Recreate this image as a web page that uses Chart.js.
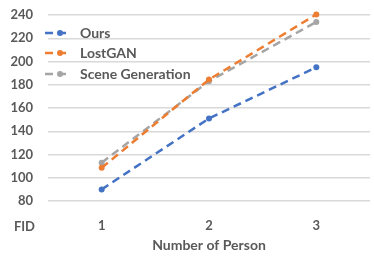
<!DOCTYPE html>
<html><head><meta charset="utf-8">
<script src="https://cdn.jsdelivr.net/npm/chart.js@4/dist/chart.umd.min.js"></script>
<style>html,body{margin:0;padding:0;background:#fff}#wrap{width:374px;height:259px;position:relative}</style>
</head><body><div id="wrap"><canvas id="c"></canvas></div>
<script>
const categories = ['1', '2', '3'];
const ours = [90, 151, 195];
const lostGAN = [108.5, 184.5, 240.5];
const sceneGen = [113, 183, 234];
const seriesNames = ['Ours', 'LostGAN', 'Scene Generation'];
const seriesColors = ['#4472C4', '#ED7D31', '#A5A5A5'];
const yTicks = [80, 100, 120, 140, 160, 180, 200, 220, 240];

const FONT = 'Lato, "Open Sans", sans-serif';
const TXT = '#595959';

const extras = {
  id: 'extras',
  afterDraw(chart) {
    const ctx = chart.ctx;
    ctx.save();
    ctx.font = 'bold 13px ' + FONT;
    ctx.fillStyle = TXT;
    ctx.textAlign = 'right';
    ctx.textBaseline = 'middle';
    ctx.fillText('FID', 35, 227);
    const rows = [33, 53, 74];
    chart.data.datasets.forEach((ds, i) => {
      const y = rows[i];
      ctx.strokeStyle = ds.borderColor;
      ctx.lineWidth = 2.5;
      ctx.setLineDash([8, 5]);
      ctx.beginPath();
      ctx.moveTo(45, y); ctx.lineTo(71, y); ctx.stroke();
      ctx.setLineDash([]);
      ctx.fillStyle = ds.borderColor;
      ctx.beginPath(); ctx.arc(60, y, 3, 0, Math.PI * 2); ctx.fill();
      ctx.fillStyle = TXT;
      ctx.textAlign = 'left';
      ctx.font = 'bold 14px ' + FONT;
      ctx.fillText(ds.label, 80, y);
    });
    ctx.restore();
  }
};

const dataArrays = [ours, lostGAN, sceneGen];
new Chart(document.getElementById('c'), {
  type: 'line',
  data: {
    labels: categories,
    datasets: dataArrays.map((d, i) => ({
      label: seriesNames[i],
      data: d,
      borderColor: seriesColors[i],
      backgroundColor: seriesColors[i],
      borderWidth: 2.5,
      borderDash: [8, 5],
      pointRadius: 3,
      pointBorderWidth: 0,
      tension: 0,
      fill: false,
      clip: false
    }))
  },
  options: {
    responsive: true,
    maintainAspectRatio: false,
    animation: false,
    layout: { padding: { top: 15, right: 4, left: 0, bottom: 0 } },
    plugins: { legend: { display: false }, tooltip: { enabled: false } },
    scales: {
      x: {
        offset: true,
        grid: { display: false, drawTicks: false },
        border: { display: false },
        afterFit: (s) => { s.height = 58; s.paddingLeft = 0; s.paddingRight = 0; },
        ticks: { color: TXT, font: { family: FONT, size: 13, weight: 'bold' }, padding: 17 },
        title: { display: true, text: 'Number of Person', color: TXT, font: { family: FONT, size: 14, weight: 'bold' }, padding: { top: 0, bottom: 5 } }
      },
      y: {
        min: 80, max: 240,
        afterBuildTicks: (s) => { s.ticks = yTicks.map(v => ({ value: v })); },
        afterFit: (s) => { s.width = 48; s.paddingTop = 0; s.paddingBottom = 0; },
        grid: { color: '#D9D9D9', lineWidth: 1.5, drawTicks: false },
        border: { display: false },
        ticks: { color: TXT, font: { family: FONT, size: 13, weight: 'bold' }, padding: 15 }
      }
    }
  },
  plugins: [extras]
});
</script></body></html>
